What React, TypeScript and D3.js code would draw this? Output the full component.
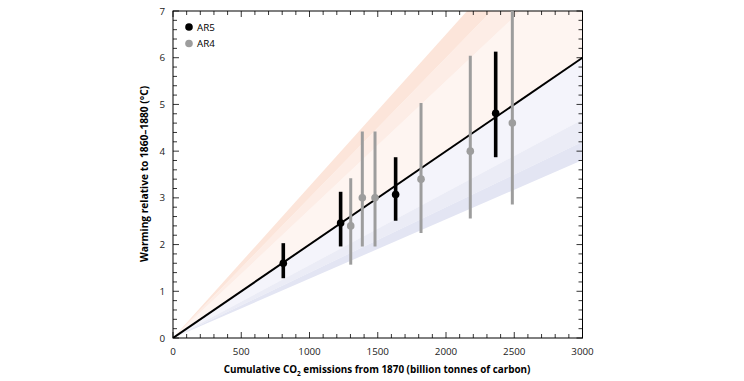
import React from "react";
import * as d3 from "d3";

// ---- data ----
const ar5X = [808, 1228, 1631, 2364];
const ar5Y = [1.6, 2.46, 3.07, 4.81];
const ar5Lo = [1.28, 1.96, 2.51, 3.87];
const ar5Hi = [2.03, 3.13, 3.87, 6.13];

const ar4X = [1302, 1387, 1480, 1817, 2178, 2486];
const ar4Y = [2.4, 3.0, 3.0, 3.4, 4.0, 4.6];
const ar4Lo = [1.57, 1.96, 1.96, 2.25, 2.56, 2.86];
const ar4Hi = [3.42, 4.42, 4.42, 5.03, 6.04, 7.2];

// warming per 1000 billion tonnes carbon (fan bands from origin)
const centralSlope = 2.0;
const upperBandSlopes = [
  [2.0, 2.75],
  [2.75, 3.0],
  [3.0, 3.25],
];
const upperBandColors = ["#fef5f1", "#fdede6", "#fce5da"];
const lowerBandSlopes = [
  [1.56, 2.0],
  [1.4, 1.56],
  [1.27, 1.4],
];
const lowerBandColors = ["#f4f4fb", "#ebecf6", "#e3e5f3"];

const xTicks = [0, 500, 1000, 1500, 2000, 2500, 3000];
const yTicks = [0, 1, 2, 3, 4, 5, 6, 7];

const W = 744;
const H = 381;
const FONT = "'Open Sans', 'Noto Sans', sans-serif";

export default function App() {
  const x = d3.scaleLinear().domain([0, 3000]).range([173, 582.5]);
  const y = d3.scaleLinear().domain([0, 7]).range([338, 11]);
  const [x0, x1] = x.range();
  const [y0, y1] = y.range();

  const fan = (sLo: number, sHi: number) => {
    const pts: [number, number][] = [
      [x(0), y(0)],
      [x(3000), y((3000 * sHi) / 1000)],
      [x(3000), y((3000 * sLo) / 1000)],
    ];
    return d3.line()(pts) + "Z";
  };

  const xMinor = d3.range(0, 3001, 100);
  const yMinor = d3.range(0, 7.001, 0.2).map((v) => Math.round(v * 10) / 10);

  return (
    <svg
      width={W}
      height={H}
      style={{ position: "absolute", left: 0, top: 0, background: "#fff" }}
      fontFamily={FONT}
    >
      <defs>
        <clipPath id="plot">
          <rect x={x0} y={y1} width={x1 - x0} height={y0 - y1} />
        </clipPath>
      </defs>
      <g clipPath="url(#plot)">
        {upperBandSlopes.map((s, i) => (
          <path key={"u" + i} d={fan(s[0], s[1])} fill={upperBandColors[i]} />
        ))}
        {lowerBandSlopes.map((s, i) => (
          <path key={"l" + i} d={fan(s[0], s[1])} fill={lowerBandColors[i]} />
        ))}
      </g>

      {/* frame */}
      <rect x={x0} y={y1} width={x1 - x0} height={y0 - y1} fill="none" stroke="#000" strokeWidth={1} />

      {/* x ticks bottom & top */}
      {xMinor.map((v) => {
        const major = v % 500 === 0;
        const len = major ? 6 : 4;
        return (
          <g key={"xt" + v} stroke="#000" strokeWidth={0.8}>
            <line x1={x(v)} x2={x(v)} y1={y0} y2={y0 - len} />
            <line x1={x(v)} x2={x(v)} y1={y1} y2={y1 + len} />
          </g>
        );
      })}
      {/* y ticks left & right */}
      {yMinor.map((v) => {
        const major = Math.abs(v - Math.round(v)) < 1e-6;
        const len = major ? 6 : 4;
        return (
          <g key={"yt" + v} stroke="#000" strokeWidth={0.8}>
            <line x1={x0} x2={x0 + len} y1={y(v)} y2={y(v)} />
            <line x1={x1} x2={x1 - len} y1={y(v)} y2={y(v)} />
          </g>
        );
      })}

      {/* central line */}
      <g clipPath="url(#plot)">
        <line
          x1={x(0)}
          y1={y(0)}
          x2={x(3000)}
          y2={y((3000 * centralSlope) / 1000)}
          stroke="#000"
          strokeWidth={2}
        />
      </g>

      {/* AR4 */}
      <g clipPath="url(#plot)">
        {ar4X.map((v, i) => (
          <g key={"a4" + i}>
            <line x1={x(v)} x2={x(v)} y1={y(ar4Lo[i])} y2={y(ar4Hi[i])} stroke="#9d9d9d" strokeWidth={3} />
            <circle cx={x(v)} cy={y(ar4Y[i])} r={3.8} fill="#9d9d9d" />
          </g>
        ))}
      </g>
      {/* AR5 */}
      {ar5X.map((v, i) => (
        <g key={"a5" + i}>
          <line x1={x(v)} x2={x(v)} y1={y(ar5Lo[i])} y2={y(ar5Hi[i])} stroke="#000" strokeWidth={3.6} />
          <circle cx={x(v)} cy={y(ar5Y[i])} r={3.8} fill="#000" />
        </g>
      ))}

      {/* tick labels */}
      {xTicks.map((v) => (
        <text key={"xl" + v} x={x(v)} y={355} textAnchor="middle" fontSize={9.8} fill="#222">
          {v}
        </text>
      ))}
      {yTicks.map((v) => (
        <text key={"yl" + v} x={165} y={y(v) + 3.5} textAnchor="end" fontSize={9.8} fill="#222">
          {v}
        </text>
      ))}

      {/* legend */}
      <circle cx={189} cy={27} r={3.8} fill="#000" />
      <text x={197} y={30.5} fontSize={9.8} fill="#000">AR5</text>
      <circle cx={189} cy={43.5} r={3.8} fill="#9d9d9d" />
      <text x={197} y={47} fontSize={9.8} fill="#000">AR4</text>

      {/* axis titles */}
      <text x={377} y={373} textAnchor="middle" fontSize={9.9} fontWeight="bold" fill="#000">
        Cumulative CO
        <tspan fontSize={6.5} dy={2.5}>2</tspan>
        <tspan dy={-2.5}> emissions from 1870 (billion tonnes of carbon)</tspan>
      </text>
      <text
        transform={`translate(148,174) rotate(-90)`}
        textAnchor="middle"
        fontSize={10.2}
        fontWeight="bold"
        fill="#000"
      >
        Warming relative to 1860–1880 (°C)
      </text>
    </svg>
  );
}
